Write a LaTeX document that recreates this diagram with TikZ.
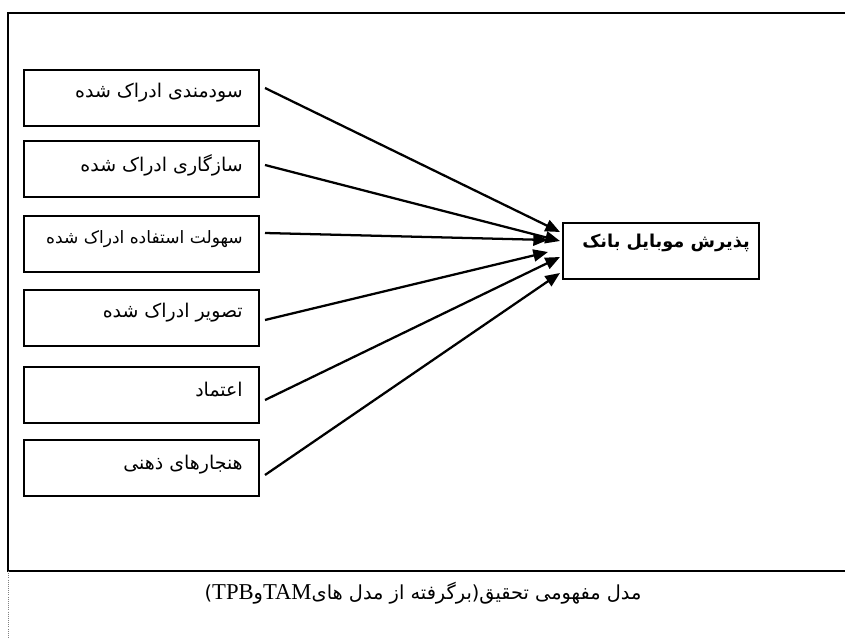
\documentclass[tikz,border=0pt]{standalone}
\usepackage{fontspec}
\setmainfont{Liberation Serif}
\newfontfamily\arabicfont[Script=Arabic]{DejaVu Sans}
\newfontfamily\arabicbold[Script=Arabic]{DejaVu Sans Bold}
\TeXXeTstate=1
\usetikzlibrary{arrows.meta}
\begin{document}
\begin{tikzpicture}[x=0.75pt,y=-0.75pt,
  frame/.style={line width=1.7pt},
  box/.style={draw,line width=1.7pt,minimum width=176.25pt,minimum height=42pt,inner sep=0pt,anchor=north west},
  tbox/.style={draw,line width=1.7pt,minimum width=147pt,minimum height=42pt,inner sep=0pt,anchor=north west},
  lbl/.style={anchor=east,inner sep=0pt,font=\arabicfont\fontsize{14.2}{16}\selectfont},
  arr/.style={line width=1.7pt,-{Triangle[length=11pt,width=9pt]}}]
\useasboundingbox (0,0) rectangle (845,638);
\draw[frame] (846,13) -- (8,13) -- (8,571) -- (846,571);
\draw[gray,densely dotted,line width=0.6pt] (8,571) -- (8,638);
\node[box] (b1) at (23,69) {};
\node[box] (b2) at (23,140) {};
\node[box] (b3) at (23,215) {};
\node[box] (b4) at (23,289) {};
\node[box] (b5) at (23,366) {};
\node[box] (b6) at (23,439) {};
\node[tbox] (tgt) at (562,222) {};
\node[lbl] (t1) at (243,93) {\beginR سودمندی ادراک شده\endR};
\node[lbl] (t2) at (243,165) {\beginR سازگاری ادراک شده\endR};
\node[lbl,font=\arabicfont\fontsize{12.8}{15}\selectfont] (t3) at (243,239) {\beginR سهولت استفاده ادراک شده\endR};
\node[lbl] (t4) at (243,313) {\beginR تصویر ادراک شده\endR};
\node[lbl] (t5) at (243,390) {\beginR اعتماد\endR};
\node[lbl] (t6) at (243,465) {\beginR هنجارهای ذهنی\endR};
\node[anchor=east,inner sep=0pt,font=\arabicbold\fontsize{13.3}{15}\selectfont] (tt) at (750,243) {\beginR پذیرش موبایل بانک\endR};
\node[inner sep=0pt,font=\arabicfont\fontsize{14.5}{17}\selectfont] (cap) at (423,593) {\beginR مدل مفهومی تحقیق(برگرفته از مدل های\beginL{\rmfamily\fontsize{17}{19}\selectfont TAM}\endL و\beginL{\rmfamily\fontsize{17}{19}\selectfont TPB}\endL)\endR};
\coordinate (s1) at (265,88);
\coordinate (s2) at (265,165);
\coordinate (s3) at (265,233);
\coordinate (s4) at (265,320);
\coordinate (s5) at (265,400);
\coordinate (s6) at (265,475);
\coordinate (e1) at (560,232);
\coordinate (e2) at (560,241);
\coordinate (e3) at (548,240);
\coordinate (e4) at (548,252);
\coordinate (e5) at (560,257);
\coordinate (e6) at (560,273);
\foreach \i in {1,...,6} \draw[arr] (s\i) -- (e\i);
\end{tikzpicture}
\end{document}
